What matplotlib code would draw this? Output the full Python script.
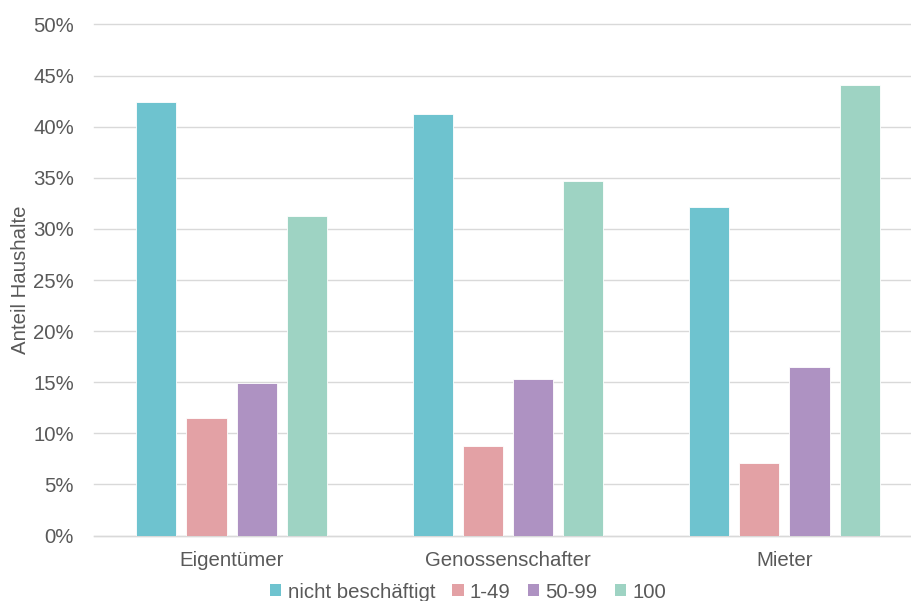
import matplotlib
matplotlib.use("Agg")
import matplotlib.pyplot as plt
import numpy as np
from matplotlib.patches import Patch
from matplotlib.ticker import FuncFormatter, MultipleLocator

plt.rcParams["font.family"] = ["Liberation Sans", "DejaVu Sans"]

# Household share by tenure type and employment level
categories = ["Eigentümer", "Genossenschafter", "Mieter"]
series_names = ["nicht beschäftigt", "1-49", "50-99", "100"]
nicht_beschaeftigt = [42.4, 41.2, 32.1]
s_1_49 = [11.5, 8.8, 7.1]
s_50_99 = [14.9, 15.3, 16.5]
s_100 = [31.3, 34.7, 44.1]
series_values = [nicht_beschaeftigt, s_1_49, s_50_99, s_100]
colors = ["#6EC3CF", "#E3A1A5", "#AE92C2", "#9ED3C3"]

text_color = "#595959"
grid_color = "#D9D9D9"
fs = 14.7

fig = plt.figure(figsize=(9.11, 6.01), dpi=100)
ax = fig.add_axes([93.5 / 911, 65.5 / 601, 829 / 911, 511 / 601])

x = np.arange(len(categories))
step = 0.182
width = 0.145
for i, (vals, c) in enumerate(zip(series_values, colors)):
    ax.bar(x + (i - 1.5) * step, vals, width=width, color=c,
           edgecolor="white", linewidth=0.6, zorder=3)

ax.set_xlim(-0.5, 2.5)
ax.set_ylim(0, 50)
ax.yaxis.set_major_locator(MultipleLocator(5))
ax.yaxis.set_major_formatter(FuncFormatter(lambda v, p: f"{v:.0f}%"))
ax.grid(axis="y", color=grid_color, linewidth=1.0, zorder=0)
ax.set_axisbelow(True)
for gl in ax.get_ygridlines():
    gl.set_clip_on(False)

for side in ["top", "right", "left"]:
    ax.spines[side].set_visible(False)
ax.spines["bottom"].set_color(grid_color)
ax.spines["bottom"].set_linewidth(1.0)

ax.set_xticks(x)
ax.set_xticklabels(categories)
ax.tick_params(axis="x", length=0, pad=11, labelsize=fs, labelcolor=text_color)
ax.tick_params(axis="y", length=0, pad=14, labelsize=fs, labelcolor=text_color)

fig.text(21 / 911, 1 - 280 / 601, "Anteil Haushalte", rotation=90,
         ha="center", va="center", fontsize=fs, color=text_color)

handles = [Patch(facecolor=c, edgecolor="none") for c in colors]
leg = fig.legend(handles, series_names, loc="center",
                 bbox_to_anchor=(468 / 911, 1 - 592 / 601), ncol=4,
                 frameon=False, fontsize=fs, handlelength=0.55,
                 handleheight=0.55, handletextpad=0.3, columnspacing=0.85,
                 borderpad=0, borderaxespad=0)
for t in leg.get_texts():
    t.set_color(text_color)

fig.savefig("out.png", dpi=100)
